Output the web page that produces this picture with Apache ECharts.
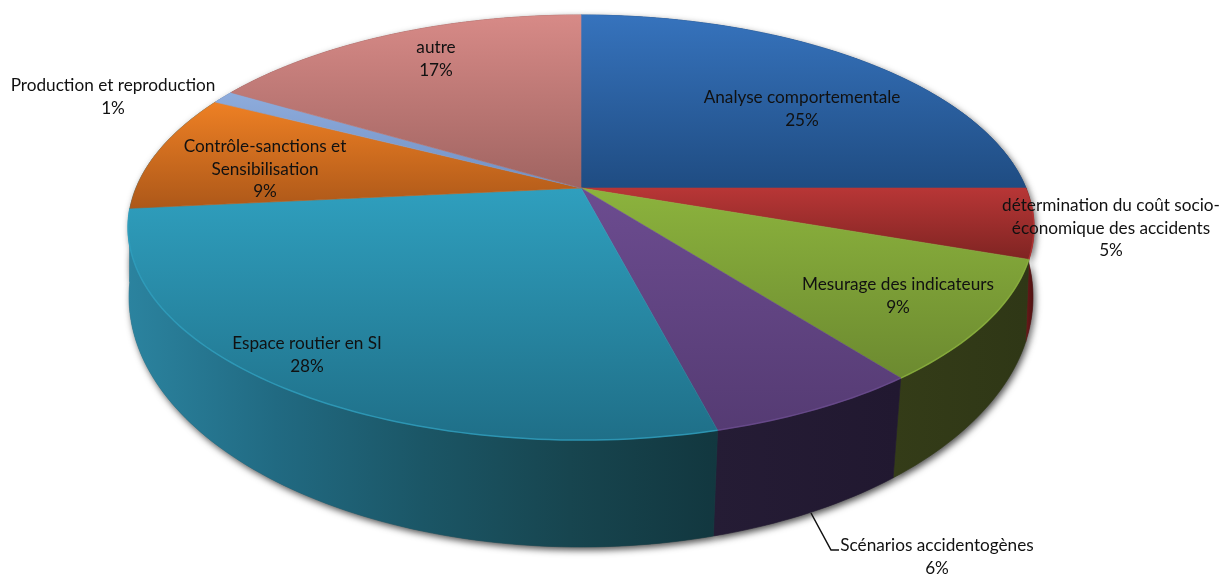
<!DOCTYPE html>
<html>
<head>
<meta charset="utf-8">
<style>
  html, body { margin: 0; padding: 0; background: #fff; }
  #chart { width: 1222px; height: 576px; }
</style>
<script src="https://cdn.jsdelivr.net/npm/echarts@6/dist/echarts.min.js"></script>
</head>
<body>
<div id="chart"></div>
<script>
const categories = [
  "Analyse comportementale",
  "détermination du coût socio-\néconomique des accidents",
  "Mesurage des indicateurs",
  "Scénarios accidentogènes",
  "Espace routier en SI",
  "Contrôle-sanctions et\nSensibilisation",
  "Production et reproduction",
  "autre",
];
const values = [25.0, 5.3, 9.2, 6.45, 27.5, 9.05, 1.0, 16.5];

// top face colours [light, dark], wall colours left to right
const topColors = [
  ["#3673bd", "#1f4c82"],
  ["#b83636", "#7f2422"],
  ["#8cb33d", "#6c8a30"],
  ["#6c4c90", "#553b73"],
  ["#2f9fbe", "#1f6f88"],
  ["#ee8024", "#ad5819"],
  ["#8eacdc", "#7190c4"],
  ["#d78a87", "#a06461"],
];
const wallColors = [
  ["#1f4c82", "#1f4c82"],
  ["#6a1a1a", "#4d1010"],
  ["#343c18", "#2f3716"],
  ["#251c35", "#211830"],
  ["#2b839f", "#216a82", "#1b5666", "#17454f", "#12373f"],
  ["#2b839f", "#2b839f"], // back slice, only its edge could show: hidden under the teal
  ["#6f8bbd", "#6f8bbd"],
  ["#a06461", "#a06461"],
];
const labelPos = [
  [802, 109], [1111, 228], [898, 296], [937, 557],
  [307, 355], [265, 169], [113, 97], [436, 59],
];

// perspective layout of the disc
const cx = 581, cy = 188, A = 445, B = 205.2, K = 0.186;
const total = values.reduce((a, b) => a + b, 0);

function rimTop(pct) {
  const th = (pct / total) * Math.PI * 2;
  const u = Math.sin(th), v = Math.cos(th), w = 1 + K * v;
  return [cx + (A * u) / w, cy - (B * v) / w];
}
function rimBottom(p) {
  const t = Math.atan2((p[1] - 227.5) / 212.5, (p[0] - cx) / 453);
  const t2 = t + 0.03 * Math.cos(t);
  return [cx + 452 * Math.cos(t2), 297 + 250 * Math.sin(t2)];
}
function rimPoints(from, to) {
  const n = Math.max(2, Math.ceil((to - from) * 3));
  const pts = [];
  for (let i = 0; i <= n; i++) pts.push(rimTop(from + ((to - from) * i) / n));
  return pts;
}
function range(i) {
  let s = 0;
  for (let k = 0; k < i; k++) s += values[k];
  return [s, s + values[i]];
}
function gradient(x, y, x2, y2, c) {
  return { type: "linear", x, y, x2, y2, global: true,
    colorStops: c.map((color, k) => ({ offset: k / (c.length - 1), color })) };
}
function wallShape(i) {
  const r = range(i);
  const top = rimPoints(r[0], r[1]);
  return top.concat(top.map(rimBottom).reverse());
}

function renderShadow(params) {
  return {
    type: "polygon",
    shape: { points: wallShape(params.dataIndex) },
    style: { fill: "#555", shadowColor: "rgba(0,0,0,0.7)", shadowBlur: 7, shadowOffsetX: 2, shadowOffsetY: 3 },
  };
}
function renderWall(params) {
  const i = params.dataIndex;
  const pts = wallShape(i);
  const xs = pts.map((p) => p[0]);
  const fill = gradient(Math.min(...xs), 0, Math.max(...xs), 0, wallColors[i]);
  return {
    type: "polygon",
    shape: { points: pts },
    style: { fill, stroke: fill, lineWidth: 0.6 },
  };
}
function renderTop(params, api) {
  const i = params.dataIndex;
  const r = range(i);
  const rim = rimPoints(r[0], r[1]);
  const pts = [[cx, cy]].concat(rim);
  const ys = pts.map((p) => p[1]);
  const fill = gradient(0, Math.min(...ys), 0, Math.max(...ys), topColors[i]);
  const children = [{
    type: "polygon",
    shape: { points: pts },
    style: { fill, stroke: fill, lineWidth: 0.6 },
  }];
  // lighter bevel along the front edge
  const front = rim.filter((p) => p[1] > 205);
  if (front.length > 1) {
    children.push({
      type: "polyline",
      shape: { points: front },
      style: { fill: null, stroke: topColors[i][0], lineWidth: 1.5, opacity: 0.8 },
    });
  }
  return { type: "group", children };
}
function renderLabel(params, api) {
  const i = params.dataIndex;
  const children = [{
    type: "text",
    style: {
      x: labelPos[i][0], y: labelPos[i][1],
      text: categories[i] + "\n" + Math.round(api.value(0)) + "%",
      fontFamily: "Lato", fontSize: 17.2, lineHeight: 22.5,
      fill: "#111", align: "center", verticalAlign: "middle",
    },
  }];
  if (i === 3) {
    children.push({
      type: "polyline",
      shape: { points: [[811, 513], [831, 550], [839, 550]] },
      style: { fill: null, stroke: "#111", lineWidth: 1.5 },
    });
  }
  return { type: "group", children };
}

const data = values.map((v, i) => ({ name: categories[i], value: v }));
const layer = (renderItem, z) => ({
  type: "custom", coordinateSystem: "none", renderItem, data, z, silent: true, animation: false,
});

const chart = echarts.init(document.getElementById("chart"));
chart.setOption({
  backgroundColor: "#fff",
  animation: false,
  series: [layer(renderShadow, 1), layer(renderWall, 2), layer(renderTop, 3), layer(renderLabel, 4)],
});
</script>
</body>
</html>
